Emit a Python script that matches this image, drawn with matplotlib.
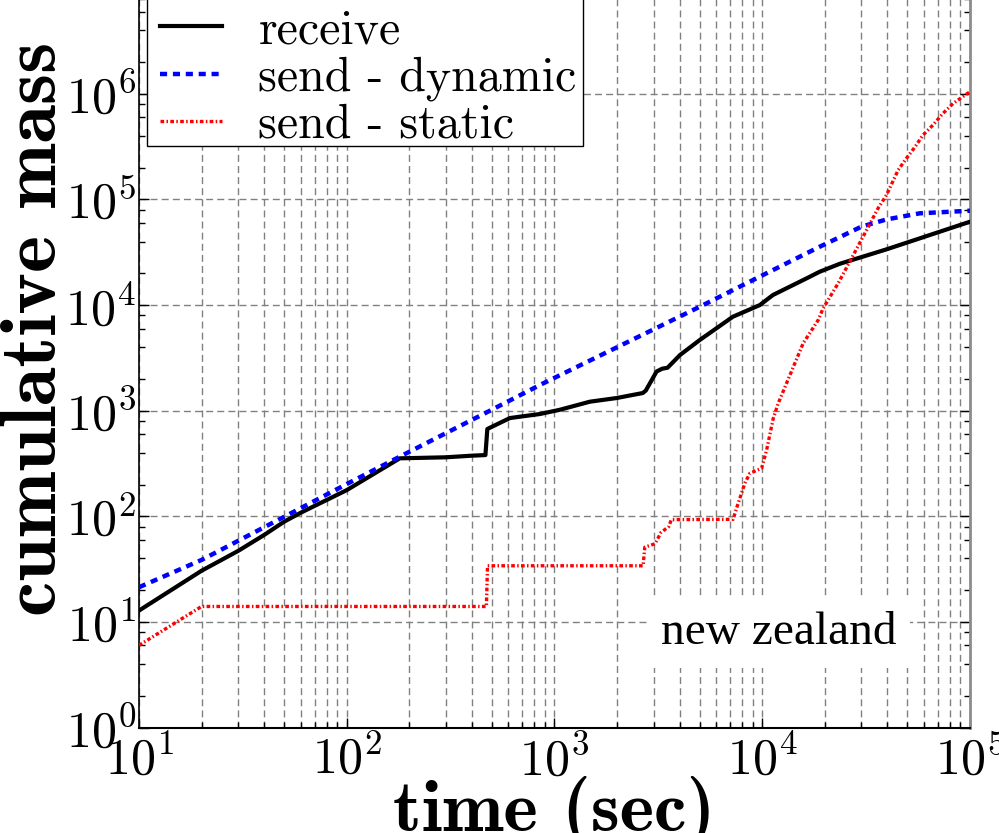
import matplotlib
matplotlib.use("Agg")
import matplotlib.pyplot as plt
from matplotlib.patches import Rectangle
from matplotlib.ticker import LogLocator, FixedLocator, NullFormatter, FuncFormatter
import numpy as np

plt.rcParams["mathtext.fontset"] = "cm"
plt.rcParams["axes.formatter.use_mathtext"] = True

# cumulative mass over time (seconds), log-log
receive_t = [10, 20, 30, 40, 50, 60, 100, 180, 300, 400, 465, 475, 610, 850,
             1060, 1480, 1990, 2660, 2750, 3100, 3300, 3500, 4020, 5010, 7230,
             9730, 11250, 16330, 18900, 23600, 39600, 100000]
receive_m = [12.8, 30.5, 47, 66.5, 89, 108, 177, 354, 362, 375, 380, 671, 852, 930,
             1020, 1217, 1318, 1470, 1550, 2350, 2500, 2550, 3370, 4680, 7770,
             10000, 12450, 17900, 20700, 24600, 33700, 61600]

dynamic_t = [10, 20, 50, 100, 180, 489, 850, 5010, 9730, 18900, 23600, 30000,
             39600, 57300, 100000]
dynamic_m = [21.3, 38.6, 99, 202, 367, 1000, 1750, 9660, 18600, 35700, 44000, 55300,
             64700, 74000, 78300]

static_t = [10, 20, 470, 476, 2670, 2720, 3050, 3250, 3550, 3650, 7240, 7520, 8240,
            8710, 9930, 10500, 11300, 11940, 13600, 15740, 18600, 19640, 23200,
            26900, 31200, 36100, 39600, 45100, 49400, 54200, 59400, 66400, 74200,
            83000, 100000]
static_m = [6.0, 14, 14, 34, 34, 51, 55, 70, 80, 93, 93.6, 119, 205,
            255, 285, 425, 848, 1175, 2180, 4350, 7230, 9330, 16100,
            27700, 47900, 82600, 110000, 190000, 245000, 312000, 408000, 508000, 655000,
            813000, 1050000]

series_labels = ["receive", "send - dynamic", "send - static"]
y_major = [1e0, 1e1, 1e2, 1e3, 1e4, 1e5, 1e6]


def pow10_label(v, pos):
    return r"$10^{%d}$" % int(round(np.log10(v)))


fig = plt.figure(figsize=(9.99, 8.33), dpi=100)
ax = fig.add_axes([0.13914, 0.12665, 0.83183, 0.8874])

ax.plot(receive_t, receive_m, color="black", lw=3.0, solid_joinstyle="round",
        label=series_labels[0], zorder=3)
ax.plot(dynamic_t, dynamic_m, color="blue", lw=3.2, linestyle=(0, (1.6, 1.3)),
        label=series_labels[1], zorder=3)
ax.plot(static_t, static_m, color="red", lw=2.4, linestyle=(0, (1.1, 0.7, 0.45, 0.7)),
        label=series_labels[2], zorder=3)

ax.set_xscale("log")
ax.set_yscale("log")
ax.set_xlim(10, 1e5)
ax.set_ylim(1, 1e7)

ax.xaxis.set_major_locator(LogLocator(base=10, numticks=10))
ax.xaxis.set_major_formatter(FuncFormatter(pow10_label))
ax.xaxis.set_minor_locator(LogLocator(base=10, subs=range(2, 10), numticks=20))
ax.xaxis.set_minor_formatter(NullFormatter())
ax.yaxis.set_major_locator(FixedLocator(y_major))
ax.yaxis.set_major_formatter(FuncFormatter(pow10_label))
ax.yaxis.set_minor_locator(LogLocator(base=10, subs=(2, 4, 6, 8), numticks=20))
ax.yaxis.set_minor_formatter(NullFormatter())

ax.set_axisbelow(True)
ax.grid(True, which="major", axis="both", color="0.5", lw=1.0, linestyle=(0, (5, 3)))
ax.grid(True, which="minor", axis="x", color="0.5", lw=1.0, linestyle=(0, (5, 3)))

ax.tick_params(which="both", direction="in", right=True, top=False, labelsize=36)
ax.tick_params(which="major", length=7, width=1.0)
ax.tick_params(which="minor", length=4, width=1.0)
ax.tick_params(axis="x", pad=6)
ax.tick_params(axis="y", pad=2)

ax.spines["top"].set_visible(False)
ax.spines["right"].set_color("0.55")
ax.spines["right"].set_linewidth(2.0)
ax.spines["left"].set_linewidth(1.2)
ax.spines["bottom"].set_linewidth(1.5)

ax.set_xlabel("time (sec)", fontfamily="cmb10", fontsize=53)
ax.xaxis.set_label_coords(0.5, -0.066)
ax.set_ylabel("cumulative mass", fontfamily="cmb10", fontsize=57)
ax.yaxis.set_label_coords(-0.082, 0.54)

# legend box: a tall white panel running past the top of the axes
ax.add_patch(Rectangle((0.0096, 0.787), 0.5247, 0.3, transform=ax.transAxes,
                       facecolor="white", edgecolor="black", lw=1.0,
                       clip_on=False, zorder=4.5))
leg = ax.legend(loc="lower left", bbox_to_anchor=(0.0253, 0.784), borderaxespad=0,
                prop={"family": "cmr10", "size": 34.5}, frameon=False,
                handlelength=1.3, handletextpad=0.75,
                labelspacing=0.06, borderpad=0.0)
leg.set_zorder(5)

ax.text(0.770, 0.128, "new zealand", transform=ax.transAxes, ha="center", va="center",
        fontfamily="Liberation Serif", fontsize=34,
        bbox=dict(facecolor="white", edgecolor="none", pad=10), zorder=4)

fig.savefig("out.png", dpi=100)
